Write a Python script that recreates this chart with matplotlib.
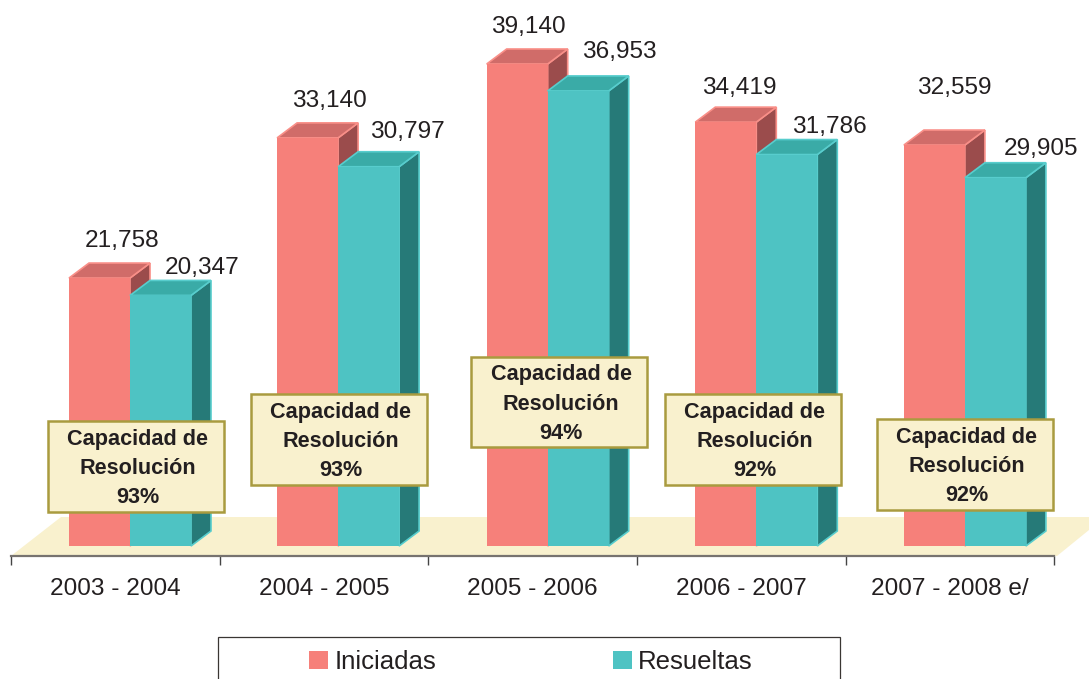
#! /usr/bin/env python3

import matplotlib.pyplot as plt
from matplotlib.patches import Polygon, Rectangle, Patch

plt.rcParams['font.family'] = ['Liberation Sans', 'DejaVu Sans']

#======================================================================
#    Data
periods = ['2003 - 2004', '2004 - 2005', '2005 - 2006', '2006 - 2007', '2007 - 2008 e/']
iniciadas = [21758, 33140, 39140, 34419, 32559]
resueltas = [20347, 30797, 36953, 31786, 29905]
capacidad = [93, 93, 94, 92, 92]

#======================================================================
#    Layout, in pixels of the 1089x679 picture
figW, figH = 1089, 679
baseY = 546
axisY = 556
pxPerVal = 482 / 39140
pxPerCat = 208.6
cat0X = 115.5
barW = 61 / pxPerCat
depthX = 20 / pxPerCat
depthY = 15 / pxPerVal
groupShift = [14.5, 14, 15, 15, 15]
# label offsets (px) from the front-top centre of each bar
iniOffset = [(23, 37), (22, 37), (11, 37), (13, 34), (20, 57)]
resOffset = [(42, 27), (39, 35), (41, 39), (43, 28), (46, 29)]
# centre (x) and top/bottom (y) of the yellow boxes
boxCx = [135.5, 338.5, 559, 753, 965]
boxTop = [421, 394, 357, 394, 419]
boxBot = [512, 485, 447, 485, 510]

RED, RED_TOP, RED_SIDE = '#f6807a', '#d06c69', '#9b4c4c'
TEAL, TEAL_TOP, TEAL_SIDE = '#4ec3c3', '#3aaba7', '#267a78'
CREAM = '#f9f1ce'
TXT = '#231f20'


def xdata(px):
    return (px - cat0X) / pxPerCat


def ydata(py):
    return (baseY - py) / pxPerVal


def bar3d(ax, x, val, col, topCol, sideCol, edge, z):
    ax.bar(x, val, barW, color=col, align='edge', zorder=z + 0.2)
    l, r = x, x + barW
    ax.add_patch(Polygon([(r, 0), (r + depthX, depthY), (r + depthX, val + depthY), (r, val)],
                         facecolor=sideCol, edgecolor=edge, lw=1.2, zorder=z))
    ax.add_patch(Polygon([(l, val), (r, val), (r + depthX, val + depthY), (l + depthX, val + depthY)],
                         facecolor=topCol, edgecolor=edge, lw=1.2, zorder=z + 0.1))


#======================================================================
#    Code begins here
fig = plt.figure(figsize=(figW / 100, figH / 100), dpi=100)
ax = fig.add_axes([0, (figH - axisY) / figH, 1, axisY / figH])
ax.set_xlim(xdata(0), xdata(figW))
ax.set_ylim(ydata(axisY), ydata(0))
ax.patch.set_alpha(0)

for s in ['top', 'left', 'right']:
    ax.spines[s].set_visible(False)
ax.spines['bottom'].set_bounds(-0.5, 4.5)
ax.spines['bottom'].set_color('#77736f')
ax.spines['bottom'].set_linewidth(1.6)
ax.set_yticks([])

ax.set_xticks([i - 0.5 for i in range(len(periods) + 1)])
ax.set_xticklabels([])
ax.tick_params(axis='x', which='major', length=6.5, width=1, color='#444444')
ax.set_xticks(range(len(periods)), minor=True)
ax.set_xticklabels(periods, minor=True, fontsize=17.6, color=TXT)
ax.tick_params(axis='x', which='minor', length=0, pad=15.8)

# the floor
ax.add_patch(Polygon([(xdata(11), ydata(556)), (xdata(1057), ydata(556)),
                      (xdata(1105), ydata(517)), (xdata(61), ydata(517))],
                     facecolor=CREAM, edgecolor='none', zorder=1, clip_on=True))

for i, per in enumerate(periods):
    mid = i + groupShift[i] / pxPerCat
    bar3d(ax, mid - barW, iniciadas[i], RED, RED_TOP, RED_SIDE, '#f98f88', 2)
    bar3d(ax, mid, resueltas[i], TEAL, TEAL_TOP, TEAL_SIDE, '#58cdcd', 3)

    ax.annotate(f'{iniciadas[i]:,}', (mid - barW / 2, iniciadas[i]),
                xytext=(iniOffset[i][0] * 0.72, iniOffset[i][1] * 0.72), textcoords='offset points',
                ha='center', va='center', fontsize=17.6, color=TXT, zorder=6)
    ax.annotate(f'{resueltas[i]:,}', (mid + barW / 2, resueltas[i]),
                xytext=(resOffset[i][0] * 0.72, resOffset[i][1] * 0.72), textcoords='offset points',
                ha='center', va='center', fontsize=17.6, color=TXT, zorder=6)

    # capacity box
    x0 = xdata(boxCx[i] - 88)
    ax.add_patch(Rectangle((x0, ydata(boxBot[i])), 176 / pxPerCat,
                           ydata(boxTop[i]) - ydata(boxBot[i]),
                           facecolor=CREAM, edgecolor='#a99b3f', lw=1.8, zorder=5))
    ax.text(xdata(boxCx[i] + 2), ydata((boxTop[i] + boxBot[i]) / 2 + 2),
            f'Capacidad de\nResolución\n{capacidad[i]}%', ha='center', va='center',
            fontsize=15.6, fontweight='bold', color=TXT, linespacing=1.52, zorder=6)

# legend frame runs off the bottom of the picture
fig.add_artist(Rectangle((218 / figW, -0.02), 622 / figW, 0.02 + (figH - 637) / figH,
                         transform=fig.transFigure, facecolor='none',
                         edgecolor='#3a3633', lw=0.9))
handles = [Patch(facecolor=RED, label='Iniciadas'), Patch(facecolor=TEAL, label='Resueltas')]
fig.legend(handles=handles, ncols=2, loc='center', bbox_to_anchor=(531 / figW, (figH - 662) / figH),
           frameon=False, fontsize=18.5, handlelength=0.72, handleheight=0.72,
           handletextpad=0.24, columnspacing=6.9, labelcolor=TXT)

fig.savefig('out.png', dpi=100)
